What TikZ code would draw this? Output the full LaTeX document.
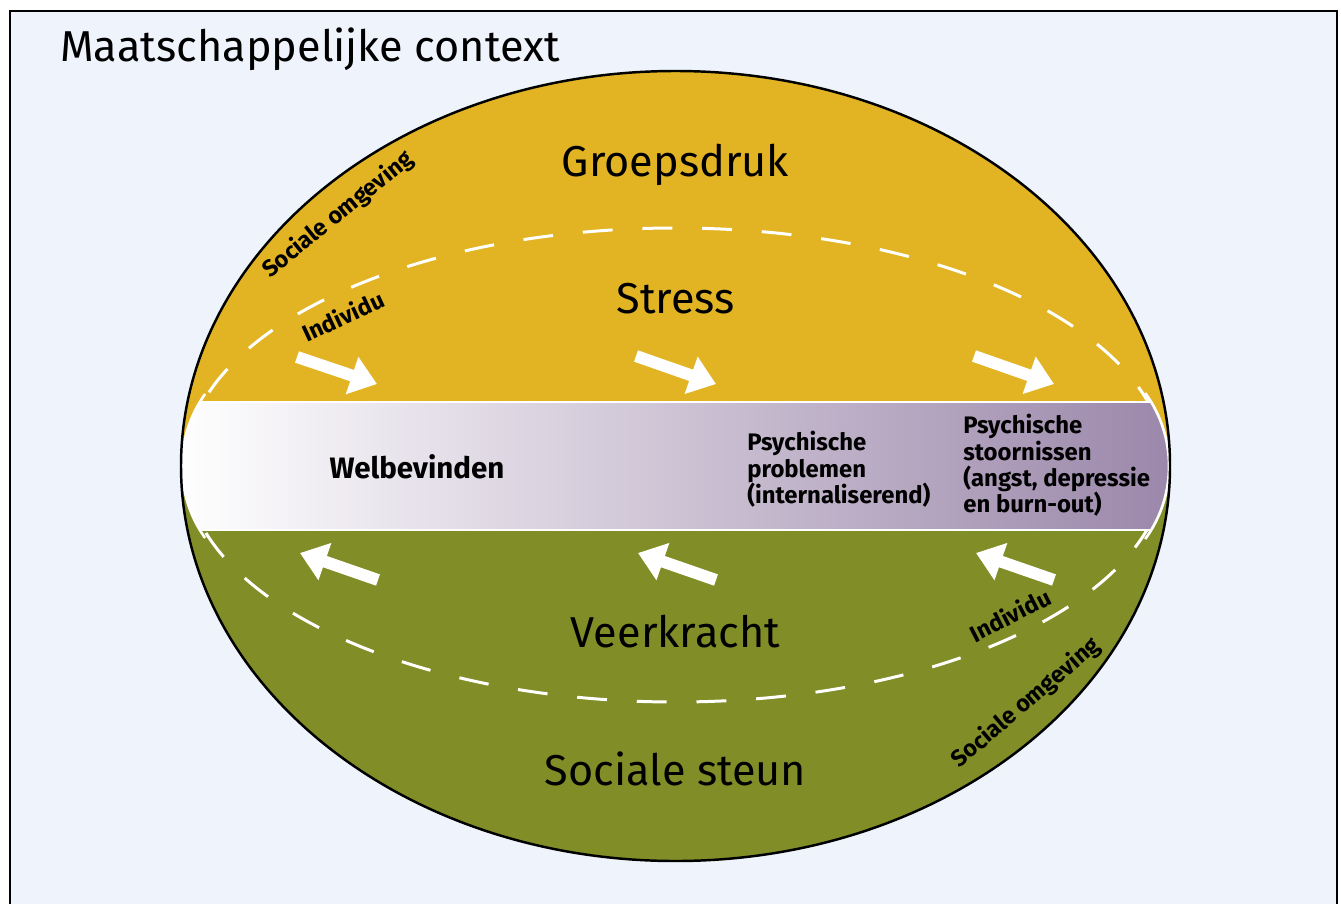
\documentclass[tikz,border=0pt]{standalone}
\usepackage{fontspec}
\setmainfont{Fira Sans}
\usetikzlibrary{arrows.meta}

\definecolor{achtergrond}{HTML}{EEF3FC}
\definecolor{goud}{HTML}{E2B424}
\definecolor{olijf}{HTML}{818D26}
\definecolor{paars}{HTML}{9B87AA}

\begin{document}
\begin{tikzpicture}[x=0.02cm, y=-0.02cm,
    kop/.style={font=\fontsize{24.6}{29}\selectfont, inner sep=0pt},
    bandtekst/.style={font=\bfseries\fontsize{13.6}{15}\selectfont, align=left, anchor=north west, inner sep=0pt},
    ringtekst/.style={font=\bfseries\fontsize{13.3}{15}\selectfont, inner sep=0pt},
    pijl/.style={draw=white, line width=6.8pt, -{Triangle[width=21.5pt,length=15pt]}}]
    \useasboundingbox (0,0) rectangle (1341,903);
    \draw[line width=1.4pt, fill=achtergrond] (10,11) rectangle (1337,930);

    \begin{scope}
        \clip (675.5,466) ellipse [x radius=494.5, y radius=395];
        \fill[goud] (170,60) rectangle (1180,466);
        \fill[olijf] (170,466) rectangle (1180,870);
    \end{scope}

    \draw[white, line width=1.7pt, dash pattern=on 17pt off 17pt] (675.5,465) ellipse [x radius=490, y radius=237];

    \shade[left color=white, right color=paars] (199.8,402) -- (1151.2,402)
        arc[start angle=-31.07, end angle=31.07, radius=124] -- (199.8,530)
        arc[start angle=148.93, end angle=211.07, radius=124] -- cycle;
    \draw[white, line width=1.3pt] (199.8,402) -- (1151.2,402);
    \draw[white, line width=1.3pt] (199.8,530) -- (1151.2,530);
    \draw[white, line width=1.5pt] (205.1,394) arc[start angle=215.5, end angle=144.5, radius=124];
    \draw[white, line width=1.5pt] (1145.2,393) arc[start angle=-36.1, end angle=36.1, radius=124];

    \draw[line width=1.4pt] (675.5,466) ellipse [x radius=494.5, y radius=395];

    \coordinate (s1) at (297,357);
    \coordinate (t1) at (377,384);
    \coordinate (s2) at (636,356);
    \coordinate (t2) at (716,384);
    \coordinate (s3) at (974,356);
    \coordinate (t3) at (1054,384);
    \coordinate (s4) at (378,580);
    \coordinate (t4) at (300,553);
    \coordinate (s5) at (716,580);
    \coordinate (t5) at (638,553);
    \coordinate (s6) at (1054,580);
    \coordinate (t6) at (976,553);

    \path (s1) edge[pijl] (t1);
    \path (s2) edge[pijl] (t2);
    \path (s3) edge[pijl] (t3);
    \path (s4) edge[pijl] (t4);
    \path (s5) edge[pijl] (t5);
    \path (s6) edge[pijl] (t6);

    \node[kop, anchor=base west] (context) at (60,61) {Maatschappelijke context};
    \node[kop, anchor=base] (groepsdruk) at (675.5,176) {Groepsdruk};
    \node[kop, anchor=base] (stress) at (675.5,313) {Stress};
    \node[kop, anchor=base] (veerkracht) at (675.5,647) {Veerkracht};
    \node[kop, anchor=base] (steun) at (675.5,785) {Sociale steun};

    \node[font=\bfseries\fontsize{16.8}{20}\selectfont, anchor=base, inner sep=0pt] (welbevinden) at (417,478) {Welbevinden};
    \node[bandtekst] (problemen) at (747,431) {Psychische\\problemen\\(internaliserend)};
    \node[bandtekst] (stoornissen) at (963,414) {Psychische\\stoornissen\\(angst, depressie\\en burn-out)};

    \node[ringtekst, rotate=39] (omgevingboven) at (338,215) {Sociale omgeving};
    \node[ringtekst, rotate=25] (individuboven) at (343,316) {Individu};
    \node[ringtekst, rotate=27] (individuonder) at (1010,615) {Individu};
    \node[ringtekst, rotate=40.5] (omgevingonder) at (1026,703) {Sociale omgeving};
\end{tikzpicture}
\end{document}
